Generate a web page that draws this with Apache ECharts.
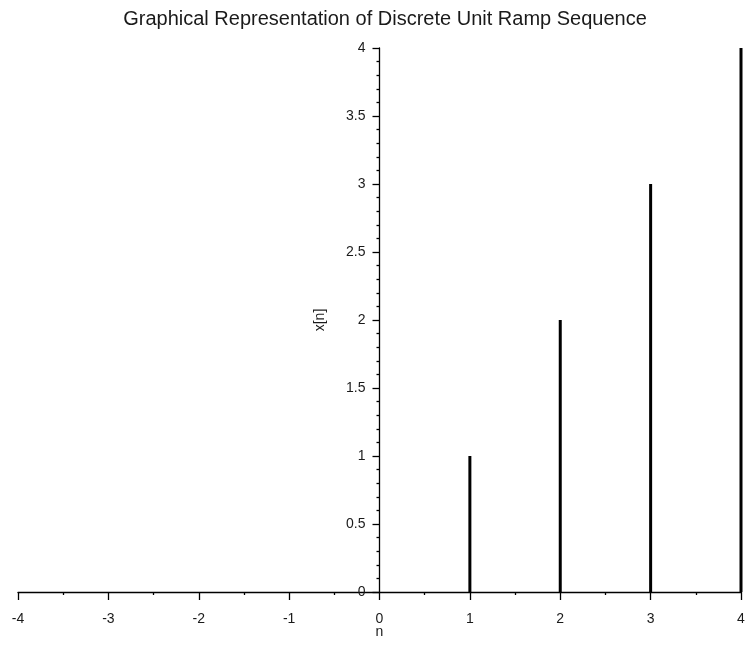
<!DOCTYPE html>
<html>
<head>
<meta charset="utf-8">
<script src="https://cdn.jsdelivr.net/npm/echarts@6/dist/echarts.min.js"></script>
<style>
  html, body { margin: 0; padding: 0; background: #fff; }
  #chart { width: 747px; height: 660px; }
</style>
</head>
<body>
<div id="chart"></div>
<script>
// Discrete unit ramp: x[n] = n for n >= 0, 0 otherwise
const nValues = [-4, -3, -2, -1, 0, 1, 2, 3, 4];
const rampValues = [0, 0, 0, 0, 0, 1, 2, 3, 4];
const xTicks = [-4, -3, -2, -1, 0, 1, 2, 3, 4];
const yTicks = [0, 0.5, 1, 1.5, 2, 2.5, 3, 3.5, 4];

const stems = nValues.map((n, i) => [n, rampValues[i]]);

const GRID_LEFT = 18;
const GRID_RIGHT = 6;
const CHART_W = 747;
// horizontal pixel where n = 0 sits; the vertical axis is drawn there
const plotW = CHART_W - GRID_LEFT - GRID_RIGHT;
const zeroX = GRID_LEFT + plotW * (0 - xTicks[0]) / (xTicks[xTicks.length - 1] - xTicks[0]);

const FONT = 'Liberation Sans, Arial, sans-serif';
const labelFont = { fontFamily: FONT, fontSize: 14, color: '#1a1a1a' };

const chart = echarts.init(document.getElementById('chart'), null, { renderer: 'canvas' });
chart.setOption({
  animation: false,
  backgroundColor: '#fff',
  title: {
    text: 'Graphical Representation of Discrete Unit Ramp Sequence',
    left: 380,
    top: 4,
    textAlign: 'center',
    textStyle: { fontFamily: FONT, fontSize: 20, fontWeight: 'normal', color: '#1a1a1a' }
  },
  grid: { left: GRID_LEFT, right: GRID_RIGHT, top: 48, bottom: 68, containLabel: false, outerBoundsMode: 'none' },
  xAxis: {
    type: 'value',
    min: xTicks[0],
    max: xTicks[xTicks.length - 1],
    interval: 1,
    name: 'n',
    nameLocation: 'middle',
    nameGap: 33,
    nameMoveOverlap: false,
    nameTextStyle: labelFont,
    axisLine: { show: true, onZero: true, lineStyle: { color: '#000', width: 1.3 } },
    axisTick: { show: true, inside: false, length: 8, lineStyle: { color: '#000', width: 1.3 } },
    minorTick: { show: true, splitNumber: 2, length: 3, lineStyle: { color: '#000', width: 1.3 } },
    axisLabel: Object.assign({ margin: 20, showMinLabel: true, showMaxLabel: true }, labelFont),
    splitLine: { show: false }
  },
  yAxis: {
    type: 'value',
    min: yTicks[0],
    max: yTicks[yTicks.length - 1],
    interval: 0.5,
    offset: -(zeroX - GRID_LEFT),
    name: 'x[n]',
    nameLocation: 'middle',
    nameGap: 52,
    nameMoveOverlap: false,
    nameRotate: 90,
    nameTextStyle: labelFont,
    axisLine: { show: true, onZero: false, lineStyle: { color: '#000', width: 1.3 } },
    axisTick: { show: true, inside: false, length: 7, lineStyle: { color: '#000', width: 1.3 } },
    minorTick: { show: true, splitNumber: 5, length: 3, lineStyle: { color: '#000', width: 1.3 } },
    axisLabel: Object.assign({ margin: 14, showMinLabel: true, showMaxLabel: true }, labelFont),
    splitLine: { show: false }
  },
  series: [{
    type: 'bar',
    data: stems,
    barWidth: 3,
    itemStyle: { color: '#000' },
    z: 1
  }]
});
</script>
</body>
</html>
